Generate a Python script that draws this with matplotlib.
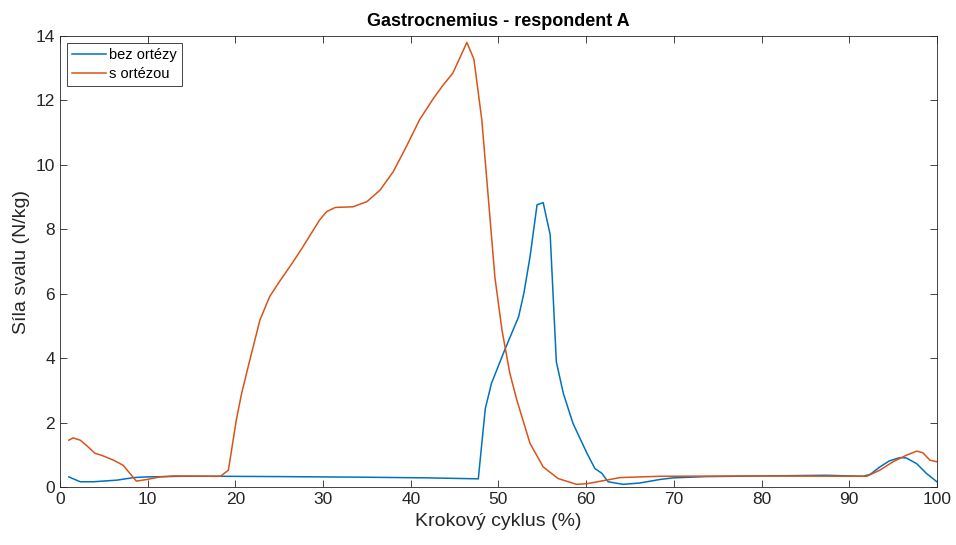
import matplotlib.pyplot as plt

# cycle positions (%) and muscle force (N/kg)
x_bez = [1, 2.3, 3.8, 6.5, 8.4, 9.9, 14, 18, 25, 35, 42, 47.7, 48.5, 49.2, 50.7,
         52.3, 52.9, 53.6, 54.4, 55.1, 55.9, 56.6, 57.4, 58.5, 60.1, 61.0, 61.8,
         62.5, 64.2, 66.1, 68.4, 69.9, 73.7, 80, 87.4, 91.6, 92.4, 93.5, 94.6,
         95.8, 96.5, 97.7, 98.8, 100]
y_bez = [0.32, 0.17, 0.17, 0.22, 0.30, 0.32, 0.34, 0.34, 0.33, 0.31, 0.29, 0.26,
         2.44, 3.22, 4.25, 5.29, 6.02, 7.15, 8.76, 8.83, 7.83, 3.89, 2.91, 1.98,
         1.05, 0.58, 0.43, 0.17, 0.09, 0.13, 0.24, 0.29, 0.33, 0.35, 0.37, 0.34,
         0.40, 0.63, 0.82, 0.92, 0.91, 0.73, 0.43, 0.17]

x_s = [1, 1.5, 2.3, 3.0, 4.0, 4.75, 6.1, 7.2, 8.7, 9.9, 11.4, 12.9, 18.3, 19.2,
       20.1, 20.7, 21.6, 22.8, 23.9, 24.9, 26.6, 27.7, 29.6, 30.4, 31.4, 33.4,
       35.0, 36.5, 38.0, 39.5, 41.0, 42.6, 43.7, 44.8, 46.4, 47.2, 48.1, 48.8,
       49.6, 50.4, 51.3, 52.1, 53.6, 55.1, 56.8, 58.9, 60.1, 62.3, 63.9, 68.4,
       80, 92.0, 93.5, 95.0, 96.5, 97.7, 98.4, 99.2, 100]
y_s = [1.46, 1.53, 1.46, 1.30, 1.05, 0.99, 0.84, 0.68, 0.19, 0.24, 0.32, 0.35,
       0.34, 0.53, 2.08, 2.9, 3.9, 5.19, 5.91, 6.33, 7.0, 7.46, 8.29, 8.55, 8.68,
       8.70, 8.86, 9.22, 9.79, 10.57, 11.4, 12.07, 12.48, 12.85, 13.8, 13.28,
       11.4, 9.12, 6.5, 4.88, 3.53, 2.70, 1.36, 0.63, 0.27, 0.09, 0.11, 0.22,
       0.30, 0.34, 0.35, 0.34, 0.53, 0.79, 0.99, 1.12, 1.07, 0.84, 0.79]

plt.rcParams['font.family'] = ['Liberation Sans', 'DejaVu Sans']
axis_col = '#262626'

fig = plt.figure(figsize=(9.56, 5.45), dpi=100)
ax = fig.add_axes([0.0628, 0.106, 0.9172, 0.828])

ax.plot(x_bez, y_bez, color='#0072BD', linewidth=1.1, label='bez ortézy')
ax.plot(x_s, y_s, color='#D95319', linewidth=1.1, label='s ortézou')

ax.set_xlim(0, 100)
ax.set_ylim(0, 14)
ax.set_xticks(range(0, 101, 10))
ax.set_yticks(range(0, 15, 2))
ax.tick_params(direction='in', top=True, right=True, length=5, width=0.6,
               colors=axis_col, labelsize=12.5, labelcolor=axis_col)
for s in ax.spines.values():
    s.set_color(axis_col)
    s.set_linewidth(0.6)

ax.set_title('Gastrocnemius - respondent A', fontsize=13, fontweight='bold', pad=7)
ax.set_xlabel('Krokový cyklus (%)', fontsize=14, color=axis_col)
ax.set_ylabel('Síla svalu (N/kg)', fontsize=14, color=axis_col)

leg = ax.legend(loc='upper left', fontsize=10.5, fancybox=False, framealpha=1,
                borderpad=0.35, handlelength=2.3, handletextpad=0.2,
                labelspacing=0.3, borderaxespad=0.5)
leg.get_frame().set_edgecolor(axis_col)
leg.get_frame().set_linewidth(0.6)

plt.savefig('out.png', dpi=100)
